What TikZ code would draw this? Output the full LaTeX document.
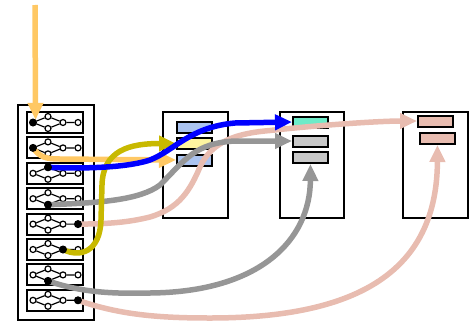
\documentclass[tikz,border=0pt]{standalone}
\usetikzlibrary{arrows.meta}
\definecolor{corange}{RGB}{255,200,100}
\definecolor{cblue}{RGB}{0,0,255}
\definecolor{colive}{RGB}{200,185,0}
\definecolor{cgray}{RGB}{150,150,150}
\definecolor{cpink}{RGB}{232,188,176}
\definecolor{sblue}{RGB}{170,195,240}
\definecolor{syellow}{RGB}{255,245,160}
\definecolor{saqua}{RGB}{110,235,200}
\definecolor{sgray}{RGB}{200,200,200}
\tikzset{
  bigbox/.style={draw, line width=2pt, minimum width=#1, minimum height=106pt, inner sep=0pt},
  outerbox/.style={draw, line width=2pt, minimum width=76pt, minimum height=215pt, inner sep=0pt},
  rowbox/.style={draw, line width=2pt, minimum width=56pt, minimum height=21pt, inner sep=0pt},
  slot/.style={draw, line width=2pt, minimum width=35pt, minimum height=11pt, inner sep=0pt, fill=#1},
  gn/.style={circle, draw, fill=white, inner sep=0pt, minimum size=6pt, line width=1.2pt},
  gb/.style={circle, fill=black, inner sep=0pt, minimum size=8pt},
  gedge/.style={line width=1.2pt},
  arr/.style={line width=5.5pt, -{Triangle[length=17pt,width=15pt]}},
}
\begin{document}
\begin{tikzpicture}[x=1pt,y=-1pt]
\useasboundingbox (0,0) rectangle (473,324);
% big boxes
\node[outerbox] (outer) at (56,212.5) {};
\node[bigbox=65pt] (box2) at (195.5,165) {};
\node[bigbox=64pt] (box3) at (312,165) {};
\node[bigbox=65pt] (box4) at (435.5,165) {};
% slots
\node[slot=sblue] (b2s1) at (194.5,127.5) {};
\node[slot=syellow] (b2s2) at (194.5,143.5) {};
\node[slot=sblue] (b2s3) at (194.5,160) {};
\node[slot=saqua] (b3s1) at (310.5,122) {};
\node[slot=sgray] (b3s2) at (310.5,141) {};
\node[slot=sgray] (b3s3) at (310.5,157.5) {};
\node[slot=cpink] (b4s1) at (435.5,121) {};
\node[slot=cpink] (b4s2) at (437.5,138.5) {};
% rows with small graphs
\foreach \i/\cy in {1/122.5,2/147.9,3/173.3,4/198.7,5/224.1,6/249.5,7/274.9,8/300.3}{
  \node[rowbox] (row\i) at (55,\cy) {};
  \node[gn] (r\i L) at (33,\cy) {};
  \node[gn] (r\i T) at (48,\cy-6) {};
  \node[gn] (r\i B) at (48,\cy+6) {};
  \node[gn] (r\i R) at (63,\cy) {};
  \node[gn] (r\i E) at (78,\cy) {};
  \draw[gedge] (r\i L) -- (r\i T) (r\i T) -- (r\i R) (r\i R) -- (r\i B) (r\i B) -- (r\i L) (r\i R) -- (r\i E);
}
\coordinate (top) at (35,5);
% connectors
\draw[arr, corange] (top) -- (r1L.north east);
\draw[arr, corange] (r2L.center) .. controls (40,157) and (45,159) .. (60,159) -- (b2s3.west);
\draw[arr, cpink] (r5E.center) .. controls (110,224) and (130,222) .. (150,217) .. controls (180,208) and (190,190) .. (200,167) .. controls (212,140) and (240,133) .. (270,130.5) .. controls (320,125) and (380,121) .. (b4s1.west);
\draw[arr, cpink] (r8E.center) .. controls (120,315) and (160,318) .. (210,318) .. controls (360,318) and (437,270) .. (b4s2.south);
\draw[arr, cgray] (r4B.center) .. controls (100,203) and (140,200) .. (160,185) .. controls (185,160) and (195,143) .. (235,141) -- (b3s2.west);
\draw[arr, cgray] (r7B.center) .. controls (80,292) and (110,294) .. (150,293) .. controls (260,292) and (310,240) .. (b3s3.south);
\draw[arr, colive] (r6R.center) .. controls (80,258) and (100,252) .. (101,220) -- (102,185) .. controls (103,150) and (130,143.5) .. (b2s2.west);
\draw[arr, cblue] (r3T.center) .. controls (60,168) and (120,170) .. (150,160) .. controls (175,150) and (190,127) .. (235,123) -- (b3s1.west);
% active nodes on top
\node[gb] (a1) at (r1L) {};
\node[gb] (a2) at (r2L) {};
\node[gb] (a3) at (r3T) {};
\node[gb] (a4) at (r4B) {};
\node[gb] (a5) at (r5E) {};
\node[gb] (a6) at (r6R) {};
\node[gb] (a7) at (r7B) {};
\node[gb] (a8) at (r8E) {};
\end{tikzpicture}
\end{document}
